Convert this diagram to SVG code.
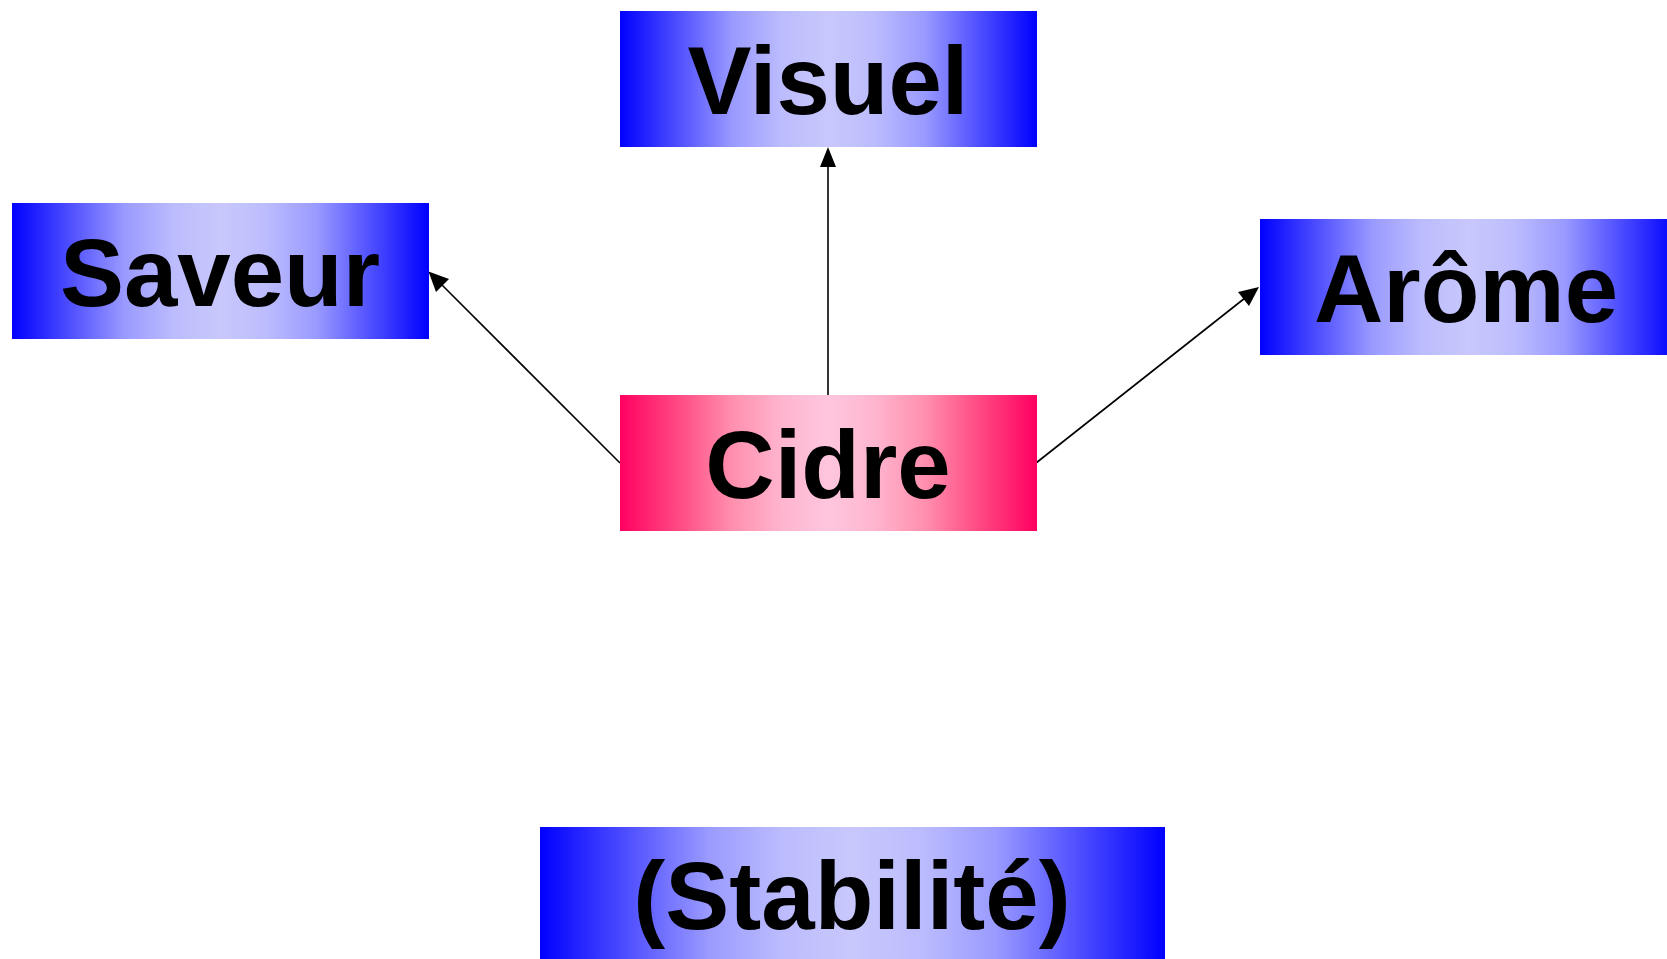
<svg xmlns="http://www.w3.org/2000/svg" width="1667" height="959" viewBox="0 0 1667 959">
<defs>
<linearGradient id="gBlue" x1="0" y1="0" x2="1" y2="0">
<stop offset="0" stop-color="#0000FF"/>
<stop offset="0.15" stop-color="#5555FF"/>
<stop offset="0.27" stop-color="#9A9AFF"/>
<stop offset="0.39" stop-color="#BCBCFE"/>
<stop offset="0.5" stop-color="#C8C8FD"/>
<stop offset="0.61" stop-color="#BCBCFE"/>
<stop offset="0.73" stop-color="#9A9AFF"/>
<stop offset="0.85" stop-color="#5555FF"/>
<stop offset="1" stop-color="#0000FF"/>
</linearGradient>
<linearGradient id="gPink" x1="0" y1="0" x2="1" y2="0">
<stop offset="0" stop-color="#FF0060"/>
<stop offset="0.15" stop-color="#FF4F86"/>
<stop offset="0.27" stop-color="#FF90AE"/>
<stop offset="0.39" stop-color="#FFB5CF"/>
<stop offset="0.5" stop-color="#FEC6DE"/>
<stop offset="0.61" stop-color="#FFB5CF"/>
<stop offset="0.73" stop-color="#FF90AE"/>
<stop offset="0.85" stop-color="#FF4F86"/>
<stop offset="1" stop-color="#FF0060"/>
</linearGradient>
<style>
.lbl{font-family:"Liberation Sans",Arial,sans-serif;font-weight:bold;font-size:96px;fill:#000;text-anchor:middle}
.edge{stroke:#000;stroke-width:1.6;fill:none}
.head{fill:#000}
</style>
</defs>
<rect width="1667" height="959" fill="#fff"/>
<g id="connectors">
<line class="edge" x1="828" y1="395" x2="828" y2="165"/>
<path class="head" d="M828,147 L836,167 L820,167 Z"/>
<line class="edge" x1="620" y1="463" x2="441" y2="284"/>
<path class="head" d="M428.5,271.5 L449,279 L436,292 Z"/>
<line class="edge" x1="1036" y1="463" x2="1245" y2="298"/>
<path class="head" d="M1259,287 L1249,306 L1238,292 Z"/>
</g>
<g id="visuel">
<rect x="620" y="11" width="417" height="136" fill="url(#gBlue)"/>
<text class="lbl" x="828" y="114">Visuel</text>
</g>
<g id="saveur">
<rect x="12" y="203" width="417" height="136" fill="url(#gBlue)"/>
<text class="lbl" x="220" y="306">Saveur</text>
</g>
<g id="arome">
<rect x="1260" y="219" width="417" height="136" fill="url(#gBlue)"/>
<text class="lbl" x="1466" y="322">Arôme</text>
</g>
<g id="cidre">
<rect x="620" y="395" width="417" height="136" fill="url(#gPink)"/>
<text class="lbl" x="828" y="498">Cidre</text>
</g>
<g id="stabilite">
<rect x="540" y="827" width="625" height="140" fill="url(#gBlue)"/>
<text class="lbl" x="852" y="929">(Stabilité)</text>
</g>
</svg>
